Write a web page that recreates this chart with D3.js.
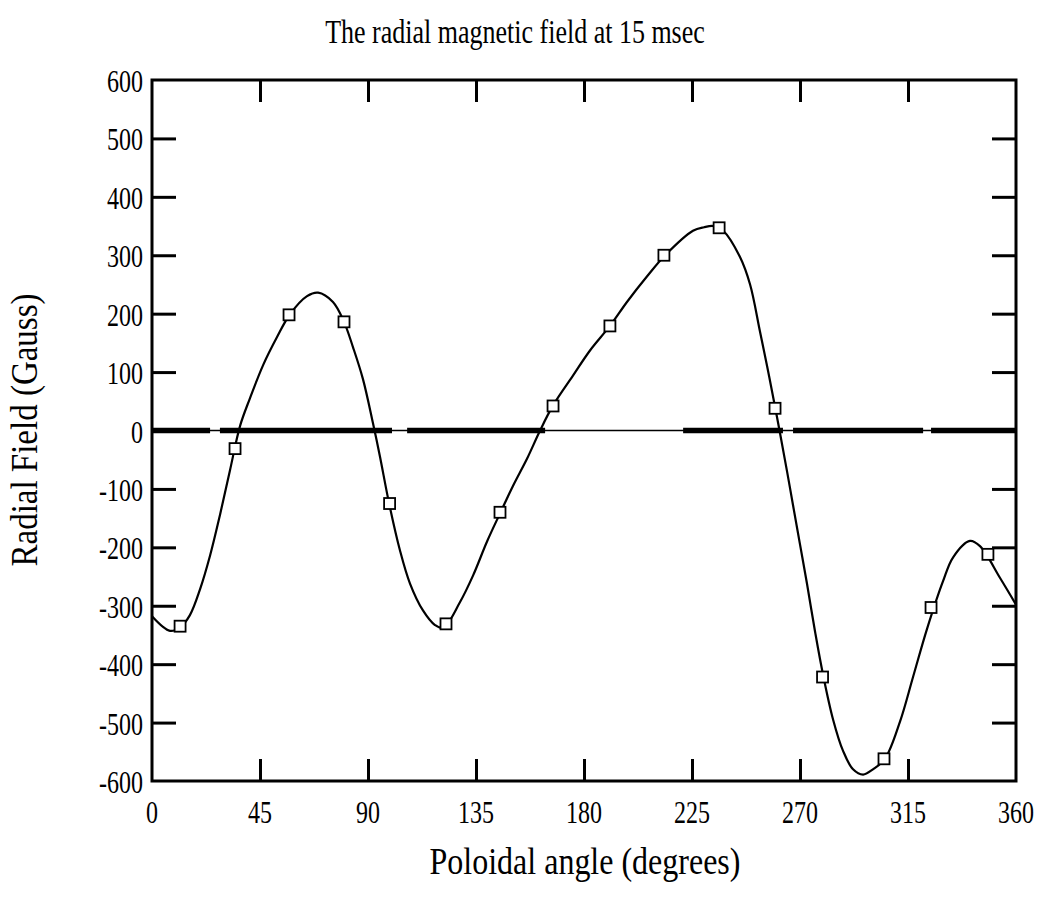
<!DOCTYPE html>
<meta charset="utf-8">
<style>
  body { margin: 0; background: #fff; }
  text { font-family: "Liberation Serif", "Times New Roman", serif; fill: #000; }
  .ticks line { stroke: #000; stroke-width: 3; }
</style>
<body>
<svg id="chart" width="1054" height="906"></svg>
<script src="https://d3js.org/d3.v7.min.js"></script>
<script>
  // curve (degrees, gauss)
  var curveAngle = [0,7.5,11.7,15.8,20,24.2,28.3,32.5,36.7,40.8,46.3,52.1,57.5,64.6,69.2,
    75.4,80,83.8,87.9,92.1,95,98.75,103.3,107.5,112.9,117.9,121.3,128.3,133.8,139.6,
    145,150.4,156.3,161.7,167.1,175.4,182.5,190.8,197.9,206.3,213.8,225.4,230,234,238,
    245,249.2,253.3,256.3,258.3,261.7,264.6,267.1,270,272.9,276.3,279.6,283.8,287.9,292.1,
    296.3,300.4,305.4,311.7,317.1,322.9,329.6,333.8,340.8,345,353.3,360];
  var curveValue = [-318,-343,-337,-316,-272,-214,-145,-68,8,55,112,160,199,230,236,
    220,186,142,88,12,-45,-124,-205,-262,-308,-333,-338,-294,-248,-190,
    -142,-95,-48,0,43,94,137,179,220,264,300,342,348,350,342,
    297,250,170,110,68,-5,-70,-128,-195,-262,-345,-418,-495,-548,-580,
    -589,-580,-562,-498,-422,-340,-258,-217,-189,-198,-252,-298];

  // measured points (squares)
  var markerAngle = [11.7,34.6,57.1,80,99,122.5,145,167.1,190.8,213.3,236.3,259.6,279.4,305,324.6,348.3];
  var markerValue = [-335,-31,198,186,-125,-331,-140,42,179,300,347,38,-422,-562,-303,-212];

  // heavy pieces drawn along the zero line
  var zeroStart = [0,28.3,106.3,221.3,267.1,324.6];
  var zeroEnd = [24.2,100,163.8,262.9,321.3,360];

  var xTickLabels = [0,45,90,135,180,225,270,315,360];
  var yTickLabels = [600,500,400,300,200,100,0,-100,-200,-300,-400,-500,-600];

  // plot frame in pixels
  var plotL = 152, plotR = 1016, plotT = 80, plotB = 781;

  var svg = d3.select("#chart");

  var x = d3.scaleLinear().domain([0, 360]).range([plotL, plotR]);
  var y = d3.scaleLinear().domain([-600, 600]).range([plotB, plotT]);

  var innerX = xTickLabels.filter(function(d){ return d > 0 && d < 360; });
  var innerY = yTickLabels.filter(function(d){ return d > -600 && d < 600; });

  // inward ticks on all four sides
  function ticksOnly(g) {
    g.attr("class", "ticks");
    g.select(".domain").remove();
    g.selectAll("text").remove();
  }
  svg.append("g").attr("transform", "translate(0," + plotB + ")")
    .call(d3.axisBottom(x).tickValues(innerX).tickSize(-22)).call(ticksOnly);
  svg.append("g").attr("transform", "translate(0," + plotT + ")")
    .call(d3.axisTop(x).tickValues(innerX).tickSize(-22)).call(ticksOnly);
  svg.append("g").attr("transform", "translate(" + plotL + ",0)")
    .call(d3.axisLeft(y).tickValues(innerY).tickSize(-24)).call(ticksOnly);
  svg.append("g").attr("transform", "translate(" + plotR + ",0)")
    .call(d3.axisRight(y).tickValues(innerY).tickSize(-24)).call(ticksOnly);

  // frame
  svg.append("rect")
    .attr("x", plotL).attr("y", plotT)
    .attr("width", plotR - plotL).attr("height", plotB - plotT)
    .attr("fill", "none").attr("stroke", "#000").attr("stroke-width", 3);

  // tick labels (scan text is a bit tall, so stretch vertically)
  svg.selectAll(".xlab").data(xTickLabels).enter().append("text")
    .attr("class", "xlab")
    .attr("transform", function(d){ return "translate(" + x(d) + ",823) scale(1,1.35)"; })
    .attr("text-anchor", "middle")
    .style("font-size", "24px")
    .text(function(d){ return d; });

  svg.selectAll(".ylab").data(yTickLabels).enter().append("text")
    .attr("class", "ylab")
    .attr("transform", function(d){ return "translate(143," + (y(d) + 12) + ") scale(1,1.35)"; })
    .attr("text-anchor", "end")
    .style("font-size", "24px")
    .text(function(d){ return d; });

  // zero line: thin full line plus heavy segments
  svg.append("line")
    .attr("x1", x(0)).attr("x2", x(360))
    .attr("y1", y(0)).attr("y2", y(0))
    .attr("stroke", "#000").attr("stroke-width", 1.5);
  svg.selectAll(".zseg").data(zeroStart).enter().append("line")
    .attr("class", "zseg")
    .attr("x1", function(d){ return x(d); })
    .attr("x2", function(d, i){ return x(zeroEnd[i]); })
    .attr("y1", y(0)).attr("y2", y(0))
    .attr("stroke", "#000").attr("stroke-width", 5.5);

  // fitted curve
  var line = d3.line()
    .x(function(d){ return x(d); })
    .y(function(d, i){ return y(curveValue[i]); })
    .curve(d3.curveCatmullRom.alpha(0.5));
  svg.append("path")
    .attr("d", line(curveAngle))
    .attr("fill", "none").attr("stroke", "#000").attr("stroke-width", 2.2);

  // squares
  var s = 11;
  svg.selectAll(".mk").data(markerAngle).enter().append("rect")
    .attr("class", "mk")
    .attr("x", function(d){ return x(d) - s / 2; })
    .attr("y", function(d, i){ return y(markerValue[i]) - s / 2; })
    .attr("width", s).attr("height", s)
    .attr("fill", "#fff").attr("stroke", "#000").attr("stroke-width", 1.8);

  // title and axis titles
  svg.append("text")
    .attr("transform", "translate(515,43) scale(1,1.3)")
    .attr("text-anchor", "middle")
    .style("font-size", "26px")
    .text("The radial magnetic field at 15 msec");

  svg.append("text")
    .attr("transform", "translate(585,874) scale(1,1.2)")
    .attr("text-anchor", "middle")
    .style("font-size", "32px")
    .text("Poloidal angle (degrees)");

  svg.append("text")
    .attr("transform", "translate(37,430) rotate(-90) scale(1,1.15)")
    .attr("text-anchor", "middle")
    .style("font-size", "33px")
    .text("Radial Field (Gauss)");
</script>
</body>
